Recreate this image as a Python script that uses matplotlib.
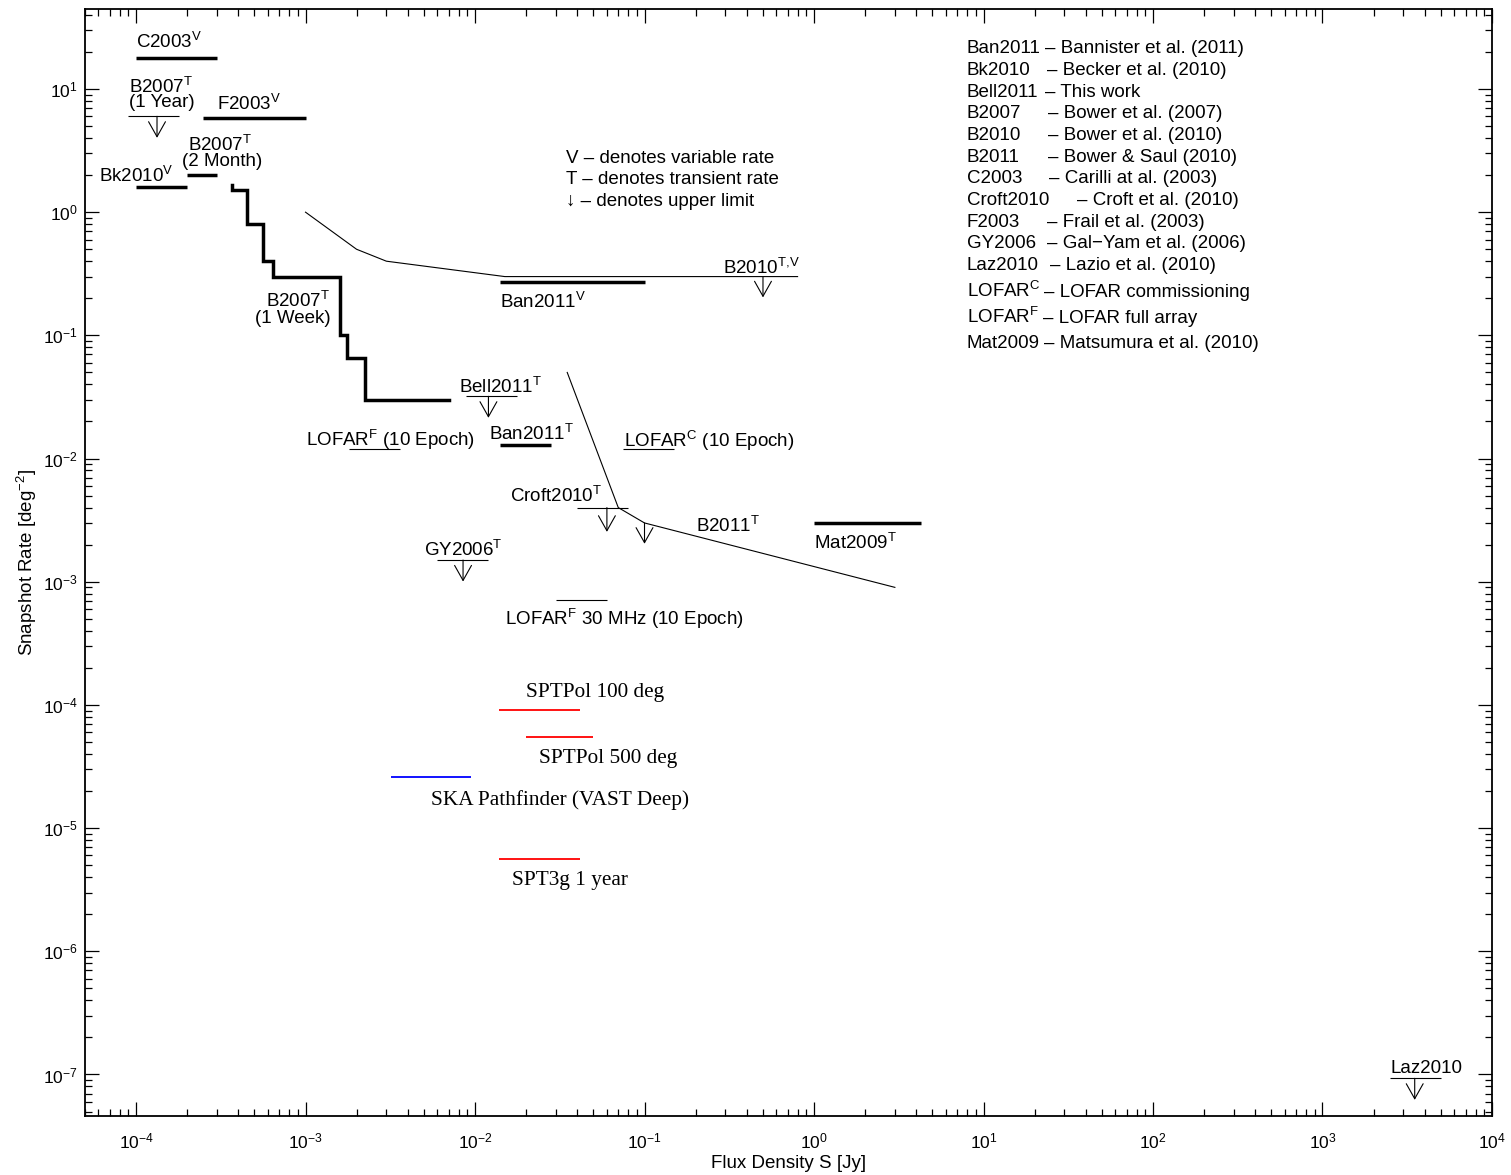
import numpy as np
import matplotlib.pyplot as plt
from matplotlib.ticker import LogLocator, NullFormatter

plt.rcParams['font.family'] = ['Liberation Sans', 'DejaVu Sans']
plt.rcParams['mathtext.fontset'] = 'custom'
plt.rcParams['mathtext.rm'] = 'Liberation Sans'
plt.rcParams['mathtext.it'] = 'Liberation Sans'
plt.rcParams['mathtext.default'] = 'regular'
plt.rcParams['font.size'] = 13.5

# thick bars: detections (S range in Jy, snapshot rate in deg^-2)
bar_names = ['C2003', 'F2003', 'B2007 2 Month', 'Bk2010', 'Ban2011 V', 'Ban2011 T', 'Mat2009']
bar_smin = [1e-4, 2.5e-4, 2e-4, 1e-4, 0.014, 0.014, 1.0]
bar_smax = [3e-4, 1e-3, 3e-4, 2e-4, 0.1, 0.028, 4.3]
bar_rate = [18.0, 5.8, 2.0, 1.6, 0.27, 0.013, 0.003]

# upper limits: thin bar with an arrow
lim_names = ['B2007 1 Year', 'Bell2011', 'GY2006', 'Croft2010', 'Laz2010']
lim_smin = [9e-5, 8.8e-3, 6e-3, 0.04, 2500.0]
lim_smax = [1.8e-4, 0.0178, 0.012, 0.08, 5000.0]
lim_rate = [6.0, 0.032, 1.5e-3, 0.004, 9.3e-8]
lim_arrow_s = [1.33e-4, 0.012, 8.5e-3, 0.06, 3500.0]

# predicted LOFAR rates (thin lines, no arrow)
lofar_names = ['LOFAR F 10 Epoch', 'LOFAR C 10 Epoch', 'LOFAR F 30 MHz']
lofar_smin = [1.8e-3, 0.075, 0.03]
lofar_smax = [3.6e-3, 0.15, 0.06]
lofar_rate = [0.012, 0.012, 7.1e-4]

# B2007 one-week stepped curve
week_edges = [3.7e-4, 4.5e-4, 5.6e-4, 6.4e-4, 1.6e-3, 1.75e-3, 2.25e-3, 7e-3]
week_rate = [1.5, 0.8, 0.4, 0.3, 0.1, 0.065, 0.03]
week_top = 1.66

# B2010 and B2011 curves
b2010_s = [1e-3, 2e-3, 3e-3, 0.015, 0.8]
b2010_rate = [1.0, 0.5, 0.4, 0.3, 0.3]
b2010_arrow_s = 0.5
b2011_s = [0.035, 0.07, 0.1, 3.0]
b2011_rate = [0.05, 0.004, 0.003, 9e-4]
b2011_arrow_s = 0.1

# SPT / SKA forecasts
spt_names = ['SPTPol 100 deg', 'SPTPol 500 deg', 'SKA Pathfinder (VAST Deep)', 'SPT3g 1 year']
spt_smin = [0.0138, 0.02, 3.2e-3, 0.0138]
spt_smax = [0.0415, 0.05, 9.5e-3, 0.0415]
spt_rate = [9.1e-5, 5.5e-5, 2.6e-5, 5.6e-6]
spt_colors = ['red', 'red', 'blue', 'red']

fig = plt.figure(figsize=(15.11, 11.75), dpi=100)
ax = fig.add_axes([0.05625, 0.05021, 0.93117, 0.94213])
ax.set_xscale('log')
ax.set_yscale('log')
ax.set_xlim(5e-5, 1e4)
ax.set_ylim(4.6e-8, 44.6)

ax.hlines(bar_rate, bar_smin, bar_smax, colors='k', lw=2.5)
ax.hlines(lim_rate, lim_smin, lim_smax, colors='k', lw=0.8)
ax.hlines(lofar_rate, lofar_smin, lofar_smax, colors='k', lw=0.8)
ax.hlines(spt_rate, spt_smin, spt_smax, colors=spt_colors, lw=1.3)

# stepped curve
sx = [week_edges[0]]
sy = [week_top]
for i, r in enumerate(week_rate):
    sx += [week_edges[i], week_edges[i + 1]]
    sy += [r, r]
    if i + 1 < len(week_rate):
        sx.append(week_edges[i + 1])
        sy.append(week_rate[i + 1])
ax.plot(sx, sy, color='k', lw=2.5, solid_joinstyle='miter')

ax.plot(b2010_s, b2010_rate, color='k', lw=0.8)
ax.plot(b2011_s, b2011_rate, color='k', lw=0.8)


def down_arrow(s, rate, length=15):
    ax.annotate('', xy=(s, rate), xytext=(0, -length), textcoords='offset points',
                arrowprops=dict(arrowstyle='<-, head_length=0.8, head_width=0.45',
                                lw=0.8, color='k', shrinkA=0, shrinkB=0))


for s, r in zip(lim_arrow_s, lim_rate):
    down_arrow(s, r, 17.5 if r == 0.004 else 15.5)
down_arrow(b2010_arrow_s, b2010_rate[-1])
down_arrow(b2011_arrow_s, b2011_rate[2])

# labels in data coordinates (x, baseline y)
labels = [
    ('C2003$^V$', 1e-4, 21.5, 'left'),
    ('B2007$^T$', 1.4e-4, 9.28, 'center'),
    ('(1 Year)', 1.42e-4, 7.1, 'center'),
    ('F2003$^V$', 3.01e-4, 6.75, 'left'),
    ('B2007$^T$', 3.15e-4, 3.16, 'center'),
    ('(2 Month)', 3.2e-4, 2.38, 'center'),
    ('Bk2010$^V$', 6.03e-5, 1.77, 'left'),
    ('B2007$^T$', 1.4e-3, 0.169, 'right'),
    ('(1 Week)', 1.4e-3, 0.1255, 'right'),
    ('Ban2011$^V$', 0.014, 0.166, 'left'),
    ('B2010$^{T,\\!V}$', 0.826, 0.313, 'right'),
    ('Bell2011$^T$', 8.04e-3, 0.0339, 'left'),
    ('Ban2011$^T$', 0.0121, 0.01416, 'left'),
    ('LOFAR$^C$ (10 Epoch)', 0.0755, 0.0125, 'left'),
    ('LOFAR$^F$ (10 Epoch)', 1.0e-3, 0.0126, 'left'),
    ('Croft2010$^T$', 0.016, 4.42e-3, 'left'),
    ('B2011$^T$', 0.201, 2.52e-3, 'left'),
    ('Mat2009$^T$', 1.0, 1.84e-3, 'left'),
    ('GY2006$^T$', 4.97e-3, 1.62e-3, 'left'),
    ('LOFAR$^F$ 30 MHz (10 Epoch)', 0.0151, 4.46e-4, 'left'),
    ('Laz2010', 2534.0, 1.02e-7, 'left'),
]
for txt, x, y, ha in labels:
    ax.text(x, y, txt, ha=ha, va='baseline')

spt_label_xy = [(0.0199, 1.155e-4), (0.02377, 3.37e-5), (5.48e-3, 1.54e-5), (0.01663, 3.46e-6)]
for name, (x, y) in zip(spt_names, spt_label_xy):
    ax.text(x, y, name, ha='left', va='baseline', family='Liberation Serif', fontsize=15.3)

notes = ['V \u2013 denotes variable rate', 'T \u2013 denotes transient rate',
         '\u2193 \u2013 denotes upper limit']
for i, t in enumerate(notes):
    ax.text(0.3419, 0.8613 - i * 0.0197, t, transform=ax.transAxes, va='baseline')

refs = ['Ban2011', 'Bk2010', 'Bell2011', 'B2007', 'B2010', 'B2011', 'C2003', 'Croft2010',
        'F2003', 'GY2006', 'Laz2010', 'LOFAR$^C$', 'LOFAR$^F$', 'Mat2009']
ref_desc = ['Bannister et al. (2011)', 'Becker et al. (2010)', 'This work', 'Bower et al. (2007)',
            'Bower et al. (2010)', 'Bower & Saul (2010)', 'Carilli at al. (2003)',
            'Croft et al. (2010)', 'Frail et al. (2003)', 'Gal\u2212Yam et al. (2006)',
            'Lazio et al. (2010)', 'LOFAR commissioning', 'LOFAR full array',
            'Matsumura et al. (2010)']
ref_dash_x = [0.6823, 0.6835, 0.6823, 0.6842, 0.6842, 0.6842, 0.6854, 0.7053,
              0.6835, 0.6835, 0.6858, 0.6775, 0.6775, 0.6740]
ref_y = [0.9600, 0.9404, 0.9208, 0.9013, 0.8817, 0.8621, 0.8425, 0.8230,
         0.8034, 0.7838, 0.7642, 0.7401, 0.7161, 0.6940]
ref_pairs = []
for name, desc, dx, y in zip(refs, ref_desc, ref_dash_x, ref_y):
    t1 = ax.text(0.6266, y, name, transform=ax.transAxes, va='baseline')
    t2 = ax.text(dx, y, '\u2013 ' + desc, transform=ax.transAxes, va='baseline')
    ref_pairs.append((t1, t2))

ax.xaxis.set_major_locator(LogLocator(base=10, numticks=20))
ax.yaxis.set_major_locator(LogLocator(base=10, numticks=20))
ax.xaxis.set_minor_locator(LogLocator(base=10, subs=np.arange(2, 10), numticks=200))
ax.yaxis.set_minor_locator(LogLocator(base=10, subs=np.arange(2, 10), numticks=200))
ax.xaxis.set_minor_formatter(NullFormatter())
ax.yaxis.set_minor_formatter(NullFormatter())
ax.tick_params(which='both', direction='in', top=True, right=True, width=0.9, labelsize=12.5)
ax.tick_params(axis='x', which='major', pad=11)
ax.tick_params(axis='y', which='major', pad=5)
ax.tick_params(which='major', length=10)
ax.tick_params(which='minor', length=5)
for sp in ax.spines.values():
    sp.set_linewidth(1.3)

ax.set_xlabel('Flux Density S [Jy]', fontsize=13.5, labelpad=3)
ax.set_ylabel('Snapshot Rate [deg$^{-2}$]', fontsize=13.5, labelpad=3)

# keep each description clear of its short name
fig.canvas.draw()
renderer = fig.canvas.get_renderer()
inv = ax.transAxes.inverted()
for t1, t2 in ref_pairs:
    bb = t1.get_window_extent(renderer)
    right = inv.transform((bb.x1, bb.y0))[0]
    if t2.get_position()[0] < right + 0.003:
        t2.set_x(right + 0.003)

fig.savefig('out.png', dpi=100)
